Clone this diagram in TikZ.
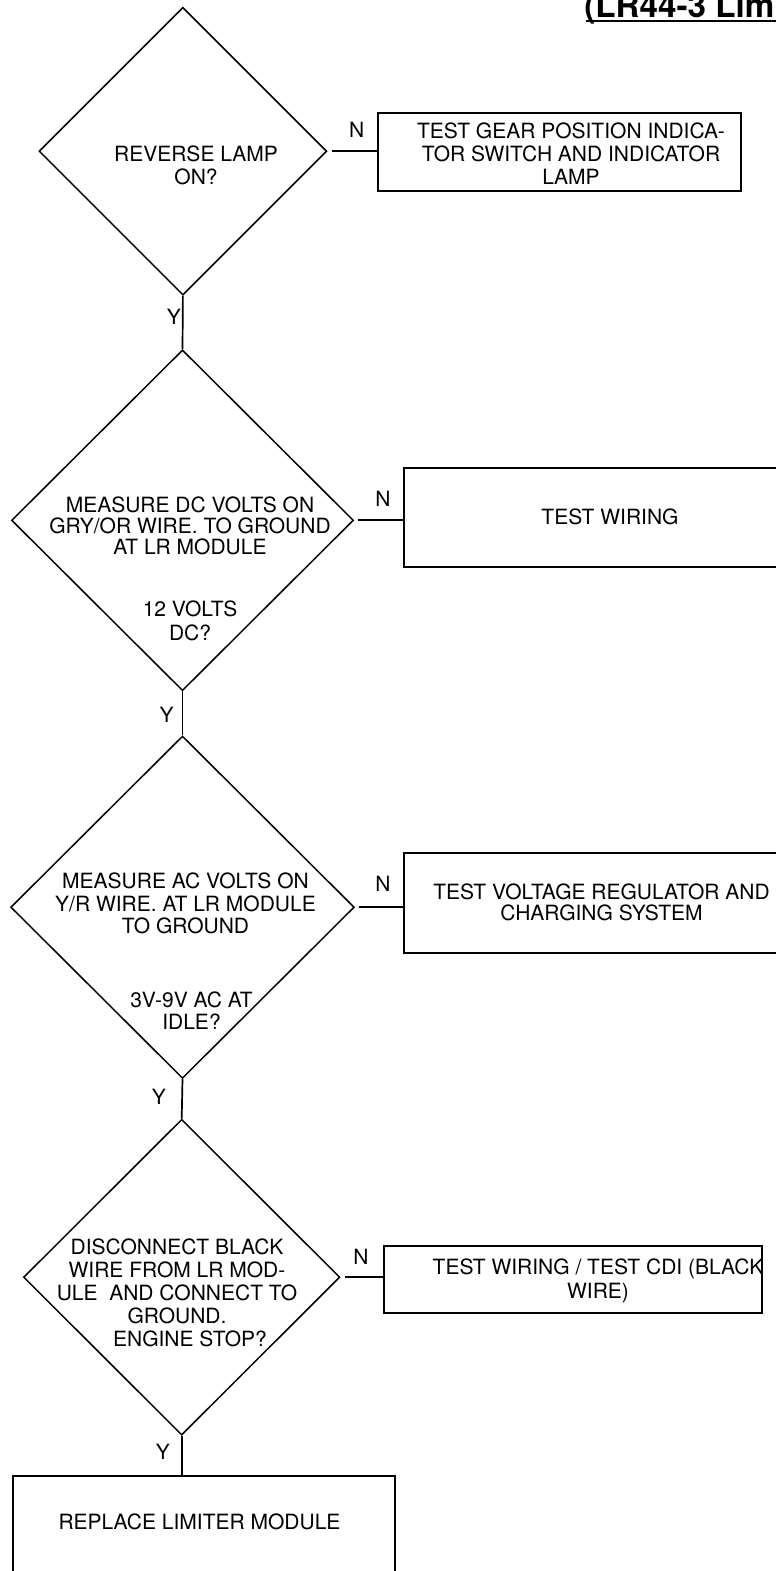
\documentclass[tikz,border=0pt]{standalone}
\usepackage{fontspec}
\setmainfont{TeX Gyre Heros}
\usetikzlibrary{shapes.geometric}
\begin{document}
\begin{tikzpicture}[x=0.5pt,y=-0.5pt,
  dia/.style={draw, shape=diamond, line width=0.75pt, inner sep=0pt, aspect=1},
  boxn/.style={draw, rectangle, line width=1.1pt, inner sep=0pt},
  txt/.style={inner sep=0pt, align=center, font=\fontsize{10.5}{11.5}\selectfont},
  lbl/.style={inner sep=0pt, font=\fontsize{10.5}{11.5}\selectfont},
  conn/.style={line width=0.85pt},
  nconn/.style={line width=0.9pt, shorten <=2pt}
]
\useasboundingbox (0,0) rectangle (776,1571);
\clip (0,0) rectangle (776,1571);

% title
\node[inner sep=0pt, anchor=base west, font=\bfseries\fontsize{16.6}{18}\selectfont] (title) at (584,17.3) {(LR44-3 Lim};
\draw[line width=1.25pt] (586,21) -- (790,21);

% decision 1
\node[dia, minimum width=143.9pt, minimum height=143.9pt] (d1) at (182.9,151.2) {};
\node[txt] (d1t) at (196,165.5) {REVERSE LAMP\\ON?};
\node[boxn, minimum width=181.5pt, minimum height=39pt] (b1) at (559.5,152) {};
\node[txt] (b1t) at (571,154) {TEST GEAR POSITION INDICA-\\TOR SWITCH AND INDICATOR\\LAMP};

% decision 2
\node[dia, minimum width=171pt, minimum height=170.4pt] (d2) at (182.5,520.3) {};
\node[txt, font=\fontsize{10.5}{10.6}\selectfont] (d2t) at (190,526) {MEASURE DC VOLTS ON\\GRY/OR WIRE. TO GROUND\\AT LR MODULE};
\node[txt, font=\fontsize{10.5}{11.8}\selectfont] (d2q) at (190,621) {12 VOLTS\\DC?};
\node[boxn, minimum width=206pt, minimum height=49.5pt] (b2) at (610,517.5) {};
\node[txt] (b2t) at (610,517) {TEST WIRING};

% decision 3
\node[dia, minimum width=171.8pt, minimum height=171.2pt] (d3) at (182.5,907.2) {};
\node[txt, font=\fontsize{10.5}{11.25}\selectfont] (d3t) at (185.5,903.5) {MEASURE AC VOLTS ON\\Y/R WIRE. AT LR MODULE\\TO GROUND};
\node[txt, font=\fontsize{10.5}{10.9}\selectfont] (d3q) at (191.5,1011) {3V-9V AC AT\\IDLE?};
\node[boxn, minimum width=198pt, minimum height=50pt] (b3) at (602,903) {};
\node[txt, font=\fontsize{10.5}{10.7}\selectfont] (b3t) at (601.5,902.3) {TEST VOLTAGE REGULATOR AND\\CHARGING SYSTEM};

% decision 4
\node[dia, minimum width=158.2pt, minimum height=157.9pt] (d4) at (181.7,1277.2) {};
\node[txt] (d4t) at (177,1281.7) {DISCONNECT BLACK\\WIRE FROM LR MOD-\\ULE\ \ AND CONNECT TO\\GROUND.};
\node[txt] (d4q) at (190,1339) {ENGINE STOP?};
\node[boxn, minimum width=189pt, minimum height=33.5pt] (b4) at (573,1279.5) {};
\node[txt, font=\fontsize{10.5}{11.8}\selectfont] (b4t) at (598,1281) {TEST WIRING / TEST CDI (BLACK\\WIRE)};

% final box
\node[boxn, minimum width=190.7pt, minimum height=52pt] (b5) at (204,1528) {};
\node[txt] (b5t) at (199.5,1521.7) {REPLACE LIMITER MODULE};

% connectors
\draw[conn] (d1.south) -- (d2.north);
\draw[conn] (d2.south) -- (d3.north);
\draw[conn] (d3.south) -- (d4.north);
\draw[conn] (d4.south) -- (d4.south |- b5.north);
\draw[nconn] (d1.east) -- (d1.east -| b1.west);
\draw[nconn] (d2.east) -- (d2.east -| b2.west);
\draw[nconn] (d3.east) -- (d3.east -| b3.west);
\draw[nconn] (d4.east) -- (d4.east -| b4.west);

% labels
\node[lbl] (y1) at (174,317) {Y};
\node[lbl] (y2) at (166.7,715) {Y};
\node[lbl] (y3) at (159,1097) {Y};
\node[lbl] (y4) at (163,1452) {Y};
\node[lbl] (n1) at (356.7,130) {N};
\node[lbl] (n2) at (383,499) {N};
\node[lbl] (n3) at (383,884) {N};
\node[lbl] (n4) at (361,1257) {N};
\end{tikzpicture}
\end{document}
